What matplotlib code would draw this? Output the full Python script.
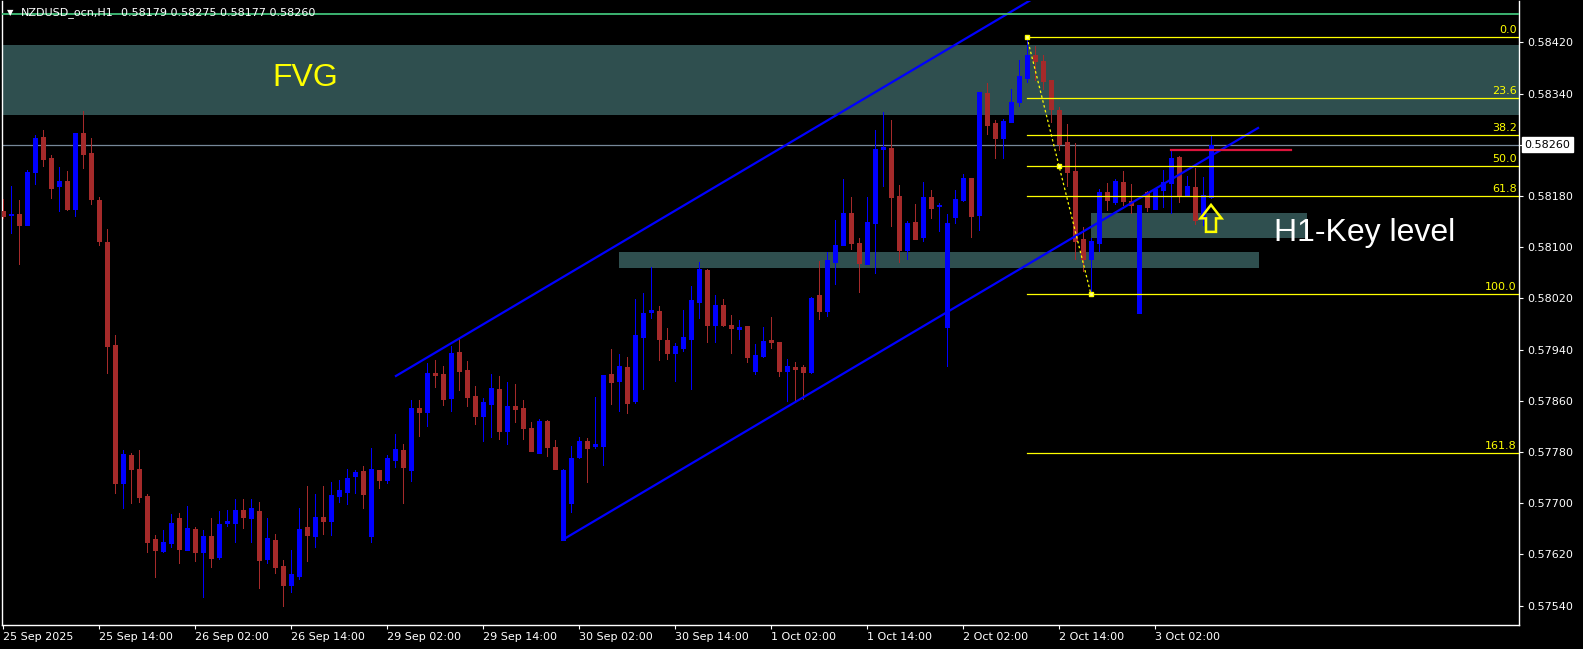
import matplotlib
matplotlib.use("Agg")
import matplotlib.pyplot as plt
from matplotlib.patches import Rectangle, Polygon
import numpy as np

# ---------------- data (NZDUSD H1) ----------------
opens = [0.58157, 0.58150, 0.58152, 0.58135, 0.58218, 0.58272, 0.58239, 0.58195, 0.58203, 0.58160,
         0.58278, 0.58247, 0.58174, 0.58108, 0.57947, 0.57732, 0.57775, 0.57753, 0.57711, 0.57644,
         0.57625, 0.57637, 0.57677, 0.57627, 0.57660, 0.57624, 0.57648, 0.57616, 0.57669, 0.57669,
         0.57690, 0.57677, 0.57687, 0.57612, 0.57642, 0.57601, 0.57572, 0.57586, 0.57662, 0.57649,
         0.57679, 0.57672, 0.57711, 0.57718, 0.57743, 0.57750, 0.57649, 0.57751, 0.57736, 0.57768,
         0.57783, 0.57752, 0.57849, 0.57843, 0.57904, 0.57901, 0.57864, 0.57936, 0.57908, 0.57867,
         0.57836, 0.57855, 0.57878, 0.57813, 0.57851, 0.57848, 0.57817, 0.57778, 0.57828, 0.57787,
         0.57643, 0.57700, 0.57772, 0.57797, 0.57789, 0.57790, 0.57902, 0.57891, 0.57912, 0.57860,
         0.57960, 0.57998, 0.58000, 0.57955, 0.57935, 0.57943, 0.57956, 0.58015, 0.58064, 0.57979,
         0.58010, 0.57978, 0.57972, 0.57977, 0.57907, 0.57930, 0.57955, 0.57952, 0.57907, 0.57913,
         0.57913, 0.57905, 0.58025, 0.58000, 0.58077, 0.58103, 0.58153, 0.58106, 0.58073, 0.58138,
         0.58253, 0.58255, 0.58180, 0.58095, 0.58139, 0.58116, 0.58178, 0.58164, 0.57975, 0.58147,
         0.58173, 0.58208, 0.58150, 0.58341, 0.58294, 0.58270, 0.58296, 0.58327, 0.58365, 0.58400,
         0.58391, 0.58361, 0.58314, 0.58264, 0.58219, 0.58113, 0.58082, 0.58107, 0.58186, 0.58171,
         0.58202, 0.58172, 0.57997, 0.58186, 0.58160, 0.58189, 0.58200, 0.58241, 0.58182, 0.58194,
         0.58144, 0.58179]
highs = [0.58175, 0.58196, 0.58174, 0.58220, 0.58275, 0.58283, 0.58244, 0.58225, 0.58219, 0.58279,
         0.58312, 0.58271, 0.58178, 0.58128, 0.57963, 0.57783, 0.57778, 0.57783, 0.57715, 0.57650,
         0.57658, 0.57683, 0.57684, 0.57695, 0.57663, 0.57658, 0.57676, 0.57687, 0.57690, 0.57706,
         0.57706, 0.57707, 0.57701, 0.57676, 0.57652, 0.57611, 0.57627, 0.57693, 0.57726, 0.57715,
         0.57727, 0.57733, 0.57736, 0.57753, 0.57752, 0.57758, 0.57786, 0.57751, 0.57775, 0.57808,
         0.57793, 0.57861, 0.57861, 0.57919, 0.57923, 0.57914, 0.57945, 0.57957, 0.57922, 0.57883,
         0.57865, 0.57902, 0.57898, 0.57890, 0.57886, 0.57861, 0.57826, 0.57832, 0.57830, 0.57798,
         0.57754, 0.57790, 0.57804, 0.57801, 0.57866, 0.57900, 0.57941, 0.57933, 0.57928, 0.58019,
         0.58029, 0.58069, 0.58008, 0.57974, 0.57950, 0.58002, 0.58039, 0.58076, 0.58066, 0.58025,
         0.58019, 0.57994, 0.57986, 0.57977, 0.57949, 0.57975, 0.57991, 0.57952, 0.57925, 0.57920,
         0.57916, 0.58022, 0.58078, 0.58093, 0.58143, 0.58206, 0.58178, 0.58115, 0.58178, 0.58283,
         0.58311, 0.58298, 0.58197, 0.58141, 0.58167, 0.58202, 0.58189, 0.58169, 0.58151, 0.58189,
         0.58215, 0.58208, 0.58342, 0.58356, 0.58298, 0.58300, 0.58347, 0.58392, 0.58428, 0.58414,
         0.58400, 0.58361, 0.58319, 0.58293, 0.58263, 0.58132, 0.58114, 0.58191, 0.58200, 0.58207,
         0.58219, 0.58199, 0.58166, 0.58188, 0.58192, 0.58221, 0.58250, 0.58242, 0.58211, 0.58224,
         0.58210, 0.58275]
lows = [0.58145, 0.58122, 0.58073, 0.58135, 0.58199, 0.58226, 0.58177, 0.58157, 0.58158, 0.58148,
        0.58224, 0.58168, 0.58103, 0.57903, 0.57716, 0.57693, 0.57700, 0.57702, 0.57624, 0.57585,
        0.57623, 0.57632, 0.57607, 0.57627, 0.57610, 0.57554, 0.57600, 0.57612, 0.57664, 0.57639,
        0.57661, 0.57639, 0.57568, 0.57607, 0.57591, 0.57540, 0.57561, 0.57581, 0.57610, 0.57632,
        0.57651, 0.57650, 0.57702, 0.57698, 0.57716, 0.57693, 0.57639, 0.57724, 0.57732, 0.57757,
        0.57700, 0.57735, 0.57805, 0.57821, 0.57882, 0.57854, 0.57844, 0.57876, 0.57852, 0.57823,
        0.57797, 0.57804, 0.57800, 0.57792, 0.57827, 0.57800, 0.57782, 0.57778, 0.57774, 0.57753,
        0.57643, 0.57686, 0.57771, 0.57733, 0.57786, 0.57759, 0.57855, 0.57844, 0.57841, 0.57857,
        0.57878, 0.57989, 0.57924, 0.57925, 0.57891, 0.57937, 0.57878, 0.57990, 0.57951, 0.57951,
        0.57977, 0.57935, 0.57956, 0.57921, 0.57902, 0.57929, 0.57943, 0.57898, 0.57860, 0.57860,
        0.57862, 0.57904, 0.57988, 0.57993, 0.58042, 0.58103, 0.58097, 0.58030, 0.58073, 0.58060,
        0.58196, 0.58133, 0.58077, 0.58081, 0.58112, 0.58109, 0.58145, 0.58125, 0.57914, 0.58138,
        0.58172, 0.58116, 0.58127, 0.58276, 0.58240, 0.58240, 0.58296, 0.58321, 0.58358, 0.58361,
        0.58347, 0.58296, 0.58252, 0.58195, 0.58082, 0.58062, 0.58026, 0.58094, 0.58158, 0.58167,
        0.58166, 0.58153, 0.57997, 0.58157, 0.58160, 0.58163, 0.58153, 0.58171, 0.58182, 0.58136,
        0.58135, 0.58177]
closes = [0.58149, 0.58151, 0.58134, 0.58218, 0.58271, 0.58238, 0.58193, 0.58203, 0.58160, 0.58278,
          0.58246, 0.58175, 0.58110, 0.57946, 0.57731, 0.57777, 0.57753, 0.57710, 0.57639, 0.57627,
          0.57639, 0.57669, 0.57629, 0.57661, 0.57624, 0.57649, 0.57614, 0.57668, 0.57672, 0.57689,
          0.57678, 0.57692, 0.57611, 0.57646, 0.57600, 0.57572, 0.57590, 0.57660, 0.57650, 0.57679,
          0.57672, 0.57712, 0.57720, 0.57740, 0.57749, 0.57714, 0.57754, 0.57736, 0.57771, 0.57785,
          0.57757, 0.57849, 0.57843, 0.57904, 0.57900, 0.57862, 0.57934, 0.57906, 0.57866, 0.57836,
          0.57858, 0.57880, 0.57813, 0.57851, 0.57847, 0.57818, 0.57782, 0.57828, 0.57788, 0.57753,
          0.57751, 0.57771, 0.57797, 0.57786, 0.57792, 0.57900, 0.57890, 0.57914, 0.57857, 0.57963,
          0.57997, 0.58002, 0.57956, 0.57935, 0.57945, 0.57959, 0.58018, 0.58066, 0.57979, 0.58010,
          0.57979, 0.57973, 0.57975, 0.57929, 0.57931, 0.57953, 0.57951, 0.57907, 0.57914, 0.57910,
          0.57905, 0.58020, 0.58000, 0.58080, 0.58104, 0.58153, 0.58107, 0.58075, 0.58139, 0.58253,
          0.58256, 0.58179, 0.58095, 0.58137, 0.58113, 0.58178, 0.58161, 0.58165, 0.58137, 0.58175,
          0.58208, 0.58148, 0.58342, 0.58291, 0.58270, 0.58297, 0.58327, 0.58367, 0.58400, 0.58391,
          0.58360, 0.58316, 0.58261, 0.58218, 0.58110, 0.58082, 0.58110, 0.58186, 0.58174, 0.58203,
          0.58172, 0.58166, 0.58166, 0.58163, 0.58191, 0.58202, 0.58239, 0.58182, 0.58196, 0.58143,
          0.58182, 0.58260]

time_tick_bars = [0, 12, 24, 36, 48, 60, 72, 84, 96, 108, 120, 132, 144]
time_tick_labels = ["25 Sep 2025", "25 Sep 14:00", "26 Sep 02:00", "26 Sep 14:00",
                    "29 Sep 02:00", "29 Sep 14:00", "30 Sep 02:00", "30 Sep 14:00",
                    "1 Oct 02:00", "1 Oct 14:00", "2 Oct 02:00", "2 Oct 14:00", "3 Oct 02:00"]
price_ticks = [0.58420, 0.58340, 0.58260, 0.58180, 0.58100, 0.58020,
               0.57940, 0.57860, 0.57780, 0.57700, 0.57620, 0.57540]

symbol_text = "NZDUSD_ocn,H1"
ohlc_text = "0.58179 0.58275 0.58177 0.58260"
current_price = 0.58260
top_line_price = 0.58464

# zones: (start bar, end bar or None=to edge, top price, bottom price)
fvg_zone = (-5, None, 0.58416, 0.58306)
key_zone_low = (77, 157, 0.58092, 0.58067)
key_zone_high = (136, 163, 0.58153, 0.58115)

# channel
chan_low_p1 = (70, 0.57643)
chan_low_p2 = (157, 0.58287)
chan_up_anchor = (57, 0.57957)
chan_up_start = 49

# fibonacci
fib_high = (128, 0.58428)
fib_low = (136, 0.58026)
fib_levels = [0.0, 23.6, 38.2, 50.0, 61.8, 100.0, 161.8]
fib_labels = ["0.0", "23.6", "38.2", "50.0", "61.8", "100.0", "161.8"]

red_level = (146, 161, 0.58251)
arrow_tip = (151, 0.58166)

# ---------------- figure ----------------
W, H = 1583, 649
fig = plt.figure(figsize=(W / 100, H / 100), dpi=100, facecolor="black")
ax_l, ax_r, ax_t, ax_b = 2, 1519, 1, 625
ax = fig.add_axes([ax_l / W, 1 - ax_b / H, (ax_r - ax_l) / W, (ax_b - ax_t) / H])
ax.set_facecolor("black")

px_per_bar = 8.0
px_per_price = 64000.0
x0 = (ax_l - 3) / px_per_bar
x1 = (ax_r - 3) / px_per_bar
y_top = 0.58420 + (42.3 - ax_t) / px_per_price
y_bot = 0.58420 - (ax_b - 42.3) / px_per_price
ax.set_xlim(x0, x1)
ax.set_ylim(y_bot, y_top)

BULL = "#0000FF"
BEAR = "#A52A2A"
ZONE = "#2F4F4F"
PX = 0.72  # one pixel in points

# zones (background)
for (s, e, top, bot) in [fvg_zone, key_zone_low, key_zone_high]:
    e = x1 + 5 if e is None else e
    ax.add_patch(Rectangle((s, bot), e - s, top - bot, facecolor=ZONE,
                           edgecolor="none", zorder=1))

# horizontal lines
ax.axhline(top_line_price, color="#3CB371", lw=1.4, zorder=6)
ax.axhline(current_price, color="#778899", lw=0.9, zorder=2)

# candles
o = np.array(opens); h = np.array(highs); l = np.array(lows); c = np.array(closes)
idx = np.arange(len(o))
cols = np.where(c >= o, BULL, BEAR)
wk = ax.vlines(idx, l, h, colors=cols, lw=1.0 * PX, zorder=3, antialiased=False)
body_bot = np.minimum(o, c)
body_top = np.maximum(np.maximum(o, c), body_bot + 1.2 / px_per_price)
bd = ax.vlines(idx, body_bot, body_top, colors=cols, lw=5.0 * PX, zorder=3, antialiased=False)
bd.set_capstyle("butt")
wk.set_capstyle("butt")

# channel
slope = (chan_low_p2[1] - chan_low_p1[1]) / (chan_low_p2[0] - chan_low_p1[0])
ax.plot([chan_low_p1[0], chan_low_p2[0]], [chan_low_p1[1], chan_low_p2[1]],
        color="#0000FF", lw=1.6, zorder=5, solid_capstyle="butt")
up_off = chan_up_anchor[1] - (chan_low_p1[1] + slope * (chan_up_anchor[0] - chan_low_p1[0]))
ux = np.array([chan_up_start, chan_low_p2[0]])
uy = chan_low_p1[1] + slope * (ux - chan_low_p1[0]) + up_off
ax.plot(ux, uy, color="#0000FF", lw=1.6, zorder=5, solid_capstyle="butt")

# fibonacci
rng = fib_high[1] - fib_low[1]
for lev, lab in zip(fib_levels, fib_labels):
    p = fib_high[1] - rng * lev / 100.0
    ax.plot([fib_high[0], x1 + 2], [p, p], color="#FFFF00", lw=0.9, zorder=5)
    ax.annotate(lab, xy=(1.0, p), xycoords=("axes fraction", "data"),
                xytext=(-1.5, 1.5), textcoords="offset points", ha="right", va="bottom",
                color="#FFFF00", fontsize=8, family="DejaVu Sans", zorder=7)
ax.plot([fib_high[0], fib_low[0]], [fib_high[1], fib_low[1]], color="#FFFF00",
        lw=0.9, ls=(0, (2, 2)), zorder=6)
mid = ((fib_high[0] + fib_low[0]) / 2, (fib_high[1] + fib_low[1]) / 2)
ax.plot([fib_high[0], mid[0], fib_low[0]], [fib_high[1], mid[1], fib_low[1]],
        ls="none", marker="s", ms=3, mfc="#FFFF99", mec="#FFFF00", zorder=7)

# red level
ax.plot([red_level[0], red_level[1]], [red_level[2], red_level[2]],
        color="#DC143C", lw=1.6, zorder=5)

# arrow (hollow, yellow outline)
tx, ty = arrow_tip
shape_px = [(0, 0), (10.5, 13.5), (5, 13.5), (5, 27), (-5, 27), (-5, 13.5), (-10.5, 13.5)]
pts = [(tx + dx / px_per_bar, ty - dy / px_per_price) for dx, dy in shape_px]
ax.add_patch(Polygon(pts, closed=True, facecolor="none", edgecolor="#FFFF00",
                     lw=1.8, zorder=8))

# labels
ax.text((272 - 3) / px_per_bar, 0.58365, "FVG",
        color="#FFFF00", fontsize=23, family="Liberation Sans", va="center", ha="left", zorder=7)
ax.text((1274 - 3) / px_per_bar, 0.58122, "H1-Key level",
        color="white", fontsize=23, family="Liberation Sans", va="center", ha="left", zorder=7)

# header
fig.text(7 / W, 1 - 13 / H, "\u25BC", color="white", fontsize=6, va="center", ha="left",
         family="DejaVu Sans")
fig.text(21 / W, 1 - 13 / H, symbol_text, color="white", fontsize=8, va="center",
         ha="left", family="DejaVu Sans")
fig.text(121 / W, 1 - 13 / H, ohlc_text, color="white", fontsize=8, va="center",
         ha="left", family="DejaVu Sans")

# axes styling
ax.spines["top"].set_visible(False)
for s in ["left", "right", "bottom"]:
    ax.spines[s].set_color("white")
    ax.spines[s].set_linewidth(1.0)

ax.yaxis.tick_right()
ax.set_yticks(price_ticks)
ax.set_yticklabels(["" if abs(p - current_price) < 1e-7 else f"{p:.5f}" for p in price_ticks])
ax.tick_params(axis="y", colors="white", labelsize=8, length=3, width=0.8, pad=3,
               labelcolor="white")
ax.set_xticks(time_tick_bars)
ax.set_xticklabels(time_tick_labels)
ax.tick_params(axis="x", colors="white", labelsize=8, length=3, width=0.8, pad=2,
               labelcolor="white")
for lbl in ax.get_xticklabels():
    lbl.set_ha("left")
    lbl.set_family("DejaVu Sans")
for lbl in ax.get_yticklabels():
    lbl.set_family("DejaVu Sans")

ax.annotate(f"{current_price:.5f}", xy=(1.0, current_price), xycoords=("axes fraction", "data"),
            xytext=(4, 0), textcoords="offset points", ha="left", va="center",
            color="black", fontsize=8, family="DejaVu Sans",
            bbox=dict(boxstyle="square,pad=0.25", fc="white", ec="white"),
            annotation_clip=False, zorder=9)

fig.savefig("out.png", dpi=100, facecolor="black")
